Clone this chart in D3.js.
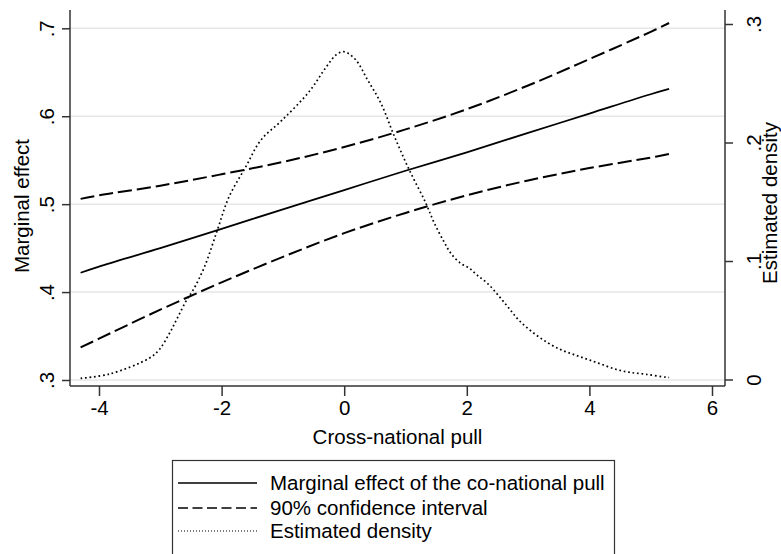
<!DOCTYPE html>
<html>
<head>
<meta charset="utf-8">
<script src="https://cdn.jsdelivr.net/npm/d3@7/dist/d3.min.js"></script>
<style>
  html, body { margin: 0; padding: 0; background: #fff; }
  svg { display: block; font-family: "Liberation Sans", Arial, Helvetica, sans-serif; }
</style>
</head>
<body>
<svg id="chart" width="781" height="554"></svg>
<script>
// Cross-national pull values at which the marginal effect is evaluated
const pullGrid = [-4.3, -4, -3, -2, -1, 0, 1, 2, 3, 4, 5, 5.3];
// Marginal effect of the co-national pull and its 90% confidence bounds
const effect   = [0.422, 0.429, 0.450, 0.472, 0.494, 0.516, 0.538, 0.559, 0.581, 0.603, 0.625, 0.631];
const ciUpper  = [0.506, 0.510, 0.521, 0.534, 0.548, 0.565, 0.585, 0.608, 0.635, 0.665, 0.696, 0.706];
const ciLower  = [0.337, 0.347, 0.380, 0.411, 0.440, 0.467, 0.490, 0.510, 0.527, 0.541, 0.553, 0.557];

// Kernel density of the cross-national pull
const densityX = [-4.30, -3.83, -3.18, -3.02, -2.85, -2.72, -2.56, -2.47, -2.28, -2.07, -1.88, -1.60,
                  -1.36, -1.01, -0.57, -0.29, -0.13, 0.00, 0.19, 0.38, 0.60, 0.82, 1.06, 1.33,
                  1.47, 1.63, 1.74, 1.90, 2.04, 2.17, 2.34, 2.53, 2.69, 2.85, 3.07, 3.32,
                  3.54, 3.75, 3.97, 4.19, 4.43, 4.65, 4.92, 5.25, 5.30];
const densityY = [0.001, 0.0046, 0.018, 0.025, 0.039, 0.052, 0.068, 0.075, 0.095, 0.126, 0.154, 0.180,
                  0.202, 0.219, 0.243, 0.264, 0.274, 0.2766, 0.2696, 0.253, 0.233, 0.205, 0.177, 0.149,
                  0.132, 0.116, 0.1065, 0.098, 0.094, 0.088, 0.081, 0.070, 0.060, 0.050, 0.040, 0.031,
                  0.025, 0.021, 0.017, 0.013, 0.0086, 0.0061, 0.0044, 0.0019, 0.0017];

// Axis ticks
const xTicks = [-4, -2, 0, 2, 4, 6];
const yTicks = [0.3, 0.4, 0.5, 0.6, 0.7];
const densTicks = [0, 0.1, 0.2, 0.3];
const fmtDec = v => v === 0 ? "0" : d3.format(".1f")(v).replace(/^0/, "");

const legendItems = [
  { label: "Marginal effect of the co-national pull", kind: "solid" },
  { label: "90% confidence interval", kind: "dash" },
  { label: "Estimated density", kind: "dot" }
];

const svg = d3.select("#chart");
const plot = { left: 70, right: 725, top: 10, bottom: 386 };

const x = d3.scaleLinear().domain([-4, 6]).range([99, 712]);
const y = d3.scaleLinear().domain([0.3, 0.7]).range([380, 28.3]);
const yDens = d3.scaleLinear().domain([0, 0.3]).range([379.5, 24]);

const axisColor = "#333";
const fontSize = 20.5;

// Grid lines at the marginal-effect ticks
svg.append("g").selectAll("line").data(yTicks).join("line")
  .attr("x1", plot.left).attr("x2", plot.right)
  .attr("y1", d => y(d)).attr("y2", d => y(d))
  .attr("stroke", "#e6e6e6").attr("stroke-width", 1.5);

// Left axis
const gLeft = svg.append("g").attr("transform", `translate(${plot.left},0)`)
  .call(d3.axisLeft(y).tickValues(yTicks).tickFormat(fmtDec).tickSize(8).tickPadding(6));
gLeft.select(".domain").attr("d", `M0,${plot.top}V${plot.bottom}`);

// Right axis (density)
const gRight = svg.append("g").attr("transform", `translate(${plot.right},0)`)
  .call(d3.axisRight(yDens).tickValues(densTicks).tickFormat(fmtDec).tickSize(8).tickPadding(6));
gRight.select(".domain").attr("d", `M0,${plot.top}V${plot.bottom}`);

// Bottom axis
const gBottom = svg.append("g").attr("transform", `translate(0,${plot.bottom})`)
  .call(d3.axisBottom(x).tickValues(xTicks).tickFormat(d => d < 0 ? "-" + Math.abs(d) : String(d)).tickSize(10).tickPadding(4));
gBottom.select(".domain").attr("d", `M${plot.left},0H${plot.right}`);

[gLeft, gRight, gBottom].forEach(g => {
  g.select(".domain").attr("stroke", axisColor).attr("stroke-width", 1.5).attr("fill", "none");
  g.selectAll(".tick line").attr("stroke", axisColor).attr("stroke-width", 1.5);
  g.selectAll(".tick text").attr("fill", "#000").style("font-size", fontSize + "px")
    .style("font-family", "'Liberation Sans', Arial, sans-serif");
});

// Vertical tick labels on both y axes
gLeft.selectAll(".tick text")
  .attr("x", null).attr("dy", null)
  .attr("text-anchor", "middle")
  .attr("transform", "translate(-16,0) rotate(-90)");
gRight.selectAll(".tick text")
  .attr("x", null).attr("dy", null)
  .attr("text-anchor", "middle")
  .attr("transform", "translate(36,0) rotate(-90)");

// Axis titles
svg.append("text").attr("text-anchor", "middle")
  .attr("transform", `translate(29,${(plot.top + plot.bottom) / 2 + 8}) rotate(-90)`)
  .style("font-size", fontSize + "px").text("Marginal effect");
svg.append("text").attr("text-anchor", "middle")
  .attr("transform", `translate(777,${(plot.top + plot.bottom) / 2 + 5}) rotate(-90)`)
  .style("font-size", fontSize + "px").text("Estimated density");
svg.append("text").attr("text-anchor", "middle")
  .attr("x", (plot.left + plot.right) / 2).attr("y", 444)
  .style("font-size", fontSize + "px").text("Cross-national pull");

// Curves
const lineEff = d3.line().x((d, i) => x(pullGrid[i])).y(d => y(d)).curve(d3.curveCatmullRom);
const lineDens = d3.line().x((d, i) => x(densityX[i])).y(d => yDens(d)).curve(d3.curveCatmullRom);

svg.append("path").datum(densityY).attr("d", lineDens)
  .attr("fill", "none").attr("stroke", "#000").attr("stroke-width", 1.7)
  .attr("stroke-dasharray", "1.7,2.8");

svg.append("path").datum(ciUpper).attr("d", lineEff)
  .attr("fill", "none").attr("stroke", "#000").attr("stroke-width", 2)
  .attr("stroke-dasharray", "14,5");
svg.append("path").datum(ciLower).attr("d", lineEff)
  .attr("fill", "none").attr("stroke", "#000").attr("stroke-width", 2)
  .attr("stroke-dasharray", "14,5");

svg.append("path").datum(effect).attr("d", lineEff)
  .attr("fill", "none").attr("stroke", "#000").attr("stroke-width", 1.8);

// Legend
const leg = svg.append("g");
leg.append("rect").attr("x", 172.5).attr("y", 460.5).attr("width", 442).attr("height", 120)
  .attr("fill", "#fff").attr("stroke", axisColor).attr("stroke-width", 1.2);
const rowY = [483, 508, 531];
const dashFor = { solid: null, dash: "10,4.5", dot: "1,2" };
const widthFor = { solid: 1.6, dash: 1.6, dot: 1.2 };
legendItems.forEach((it, i) => {
  leg.append("line").attr("x1", 178).attr("x2", 257).attr("y1", rowY[i]).attr("y2", rowY[i])
    .attr("stroke", "#000").attr("stroke-width", widthFor[it.kind])
    .attr("stroke-dasharray", dashFor[it.kind]);
  leg.append("text").attr("x", 270).attr("y", rowY[i] + 7)
    .style("font-size", fontSize + "px").text(it.label);
});
</script>
</body>
</html>
